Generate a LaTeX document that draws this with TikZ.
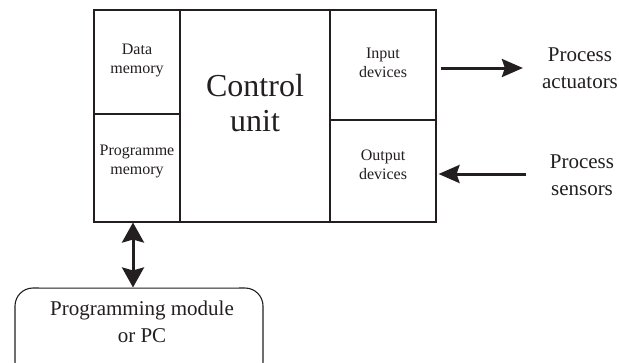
\documentclass[tikz,border=0pt]{standalone}
\usepackage{fontspec}
\setmainfont{Liberation Serif}
\usetikzlibrary{arrows.meta,positioning,calc}
\definecolor{plcink}{HTML}{231F20}
\definecolor{plcteal}{HTML}{55D8C6}
\tikzset{
  cell/.style={draw=plcink, line width=1.1pt, minimum width=#1, inner sep=0pt},
  smalltxt/.style={text=plcink, align=center, inner sep=1pt, font=\fontsize{16}{19}\selectfont},
  midtxt/.style={text=plcink, align=center, inner sep=1pt, font=\fontsize{21}{27}\selectfont},
  bigtxt/.style={text=plcink, align=center, inner sep=1pt, font=\fontsize{32}{35}\selectfont},
  fatarrow/.style={draw=plcink, line width=3pt, -{Stealth[length=21pt,width=18pt,inset=3pt]}},
  twoarrow/.style={draw=plcink, line width=3pt, {Stealth[length=20pt,width=22pt,inset=3pt]}-{Stealth[length=20pt,width=22pt,inset=3pt]}}
}
\begin{document}
\begin{tikzpicture}[x=1pt, y=-1pt]
    \clip (0,0) rectangle (619,362);
    \useasboundingbox (0,0) rectangle (619,362);
    \fill[white] (0,0) rectangle (619,362);

    % memory column
    \node[cell=86, minimum height=104] (dm) at (137,62) {};
    \node[cell=86, minimum height=108] (pm) at (137,168) {};
    \node[smalltxt] (dmtxt) at (137,60) {Data\\memory};
    \node[smalltxt] (pmtxt) at (137,161) {Programme\\memory};

    % control unit
    \node[cell=150, minimum height=212] (cu) at (255,116) {};
    \node[bigtxt] (cutxt) at (255,103) {Control\\unit};

    % device column
    \node[cell=106, minimum height=110] (inp) at (383,65) {};
    \node[cell=106, minimum height=102] (outp) at (383,171) {};
    \node[smalltxt] (inptxt) at (383,63) {Input\\devices};
    \node[smalltxt] (outptxt) at (383,165) {Output\\devices};

    % process side
    \node[midtxt] (act) at (580,68) {Process\\actuators};
    \node[midtxt] (sens) at (582,175) {Process\\sensors};
    \draw[fatarrow] ([shift={(4,3)}]inp.east) -- ([shift={(-18,3)}]inp.east -| act.west);
    \draw[fatarrow] ([shift={(-23,3)}]outp.east -| sens.west) -- ([shift={(2,3)}]outp.east);

    % programming module
    \node[draw=plcink, line width=1.1pt, rounded corners=18pt, minimum width=248, minimum height=92] (prog) at (139,334) {};
    \draw[plcteal, line width=1.1pt] ([xshift=-100]prog.north) -- ([xshift=100]prog.north);
    \node[midtxt] (progtxt) at (142,322) {Programming module\\or PC};
    \draw[twoarrow] ([xshift=-4]pm.south) -- ([xshift=-6]prog.north);
\end{tikzpicture}
\end{document}
